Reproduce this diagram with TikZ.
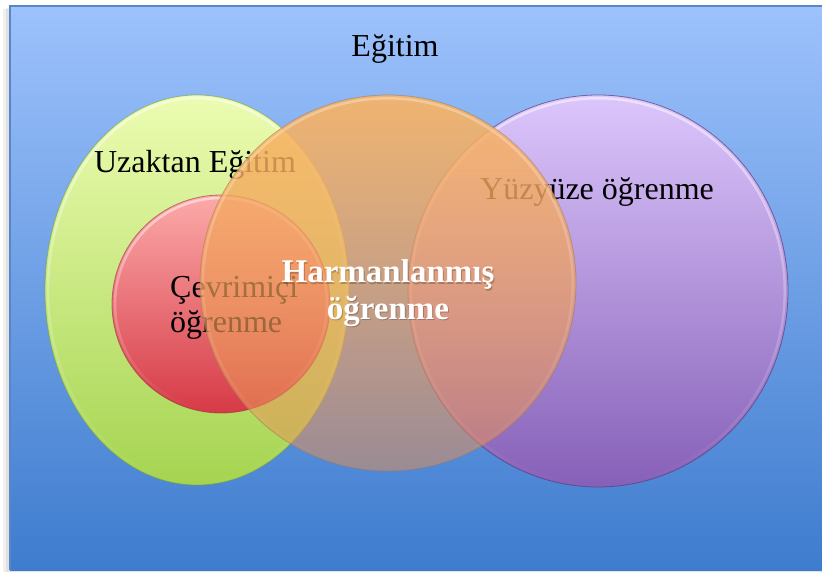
\documentclass[tikz,border=0pt]{standalone}
\usepackage{fontspec}
\setmainfont{Liberation Serif}
\usetikzlibrary{fadings}

% palette
\definecolor{bgtop}{RGB}{157,194,252}
\definecolor{bgbot}{RGB}{62,124,206}
\definecolor{bgedge}{RGB}{88,134,200}
\definecolor{grtop}{RGB}{236,252,178}
\definecolor{grbot}{RGB}{165,212,80}
\definecolor{gredge}{RGB}{120,160,60}
\definecolor{rdtop}{RGB}{252,170,170}
\definecolor{rdbot}{RGB}{214,58,70}
\definecolor{rdedge}{RGB}{150,50,60}
\definecolor{pptop}{RGB}{220,198,252}
\definecolor{ppbot}{RGB}{134,96,184}
\definecolor{ppedge}{RGB}{90,60,120}
\definecolor{ortop}{RGB}{250,180,98}
\definecolor{orbot}{RGB}{230,142,84}
\definecolor{oredge}{RGB}{160,120,80}

% the blended circle is denser at the top than at the bottom
\tikzfading[name=orfade, top color=transparent!10, bottom color=transparent!50]

\tikzset{
  lbl/.style={font=\fontsize{32}{38}\selectfont, inner sep=0pt, text=black},
  hlbl/.style={font=\fontsize{33}{38}\selectfont\bfseries, inner sep=0pt},
  rim/.style={draw=white, line width=2.5pt, draw opacity=0.5, path fading=south},
}

\begin{document}
\begin{tikzpicture}[x=1pt,y=-1pt]
\useasboundingbox (0,0) rectangle (822,572);
\fill[white] (0,0) rectangle (822,572);

% panel shadow and panel
\fill[black, opacity=0.06] (3,9) rectangle (822,573);
\fill[black, opacity=0.06] (6,8) rectangle (822,572);
\shade[top color=bgtop, bottom color=bgbot] (10,6) rectangle (824,570);
\draw[bgedge, line width=1.2pt] (10,570) -- (10,6) -- (824,6);

% Uzaktan Egitim
\shade[top color=grtop, bottom color=grbot] (197,290) ellipse [x radius=152pt, y radius=195pt];
\draw[gredge, line width=0.8pt, draw opacity=0.6] (197,290) ellipse [x radius=152pt, y radius=195pt];
\path[rim] (197,290) ellipse [x radius=149pt, y radius=192pt];
\node[lbl, anchor=base] (uzaktan) at (195,173) {Uzaktan Eğitim};

% Cevrimici ogrenme
\shade[top color=rdtop, bottom color=rdbot] (221,304) circle [radius=109pt];
\draw[rdedge, line width=0.8pt, draw opacity=0.6] (221,304) circle [radius=109pt];
\path[rim] (221,304) circle [radius=106pt];
\node[lbl, anchor=base west] (cev1) at (170,297) {Çevrimiçi};
\node[lbl, anchor=base west] (cev2) at (170,332) {öğrenme};

% Yuzyuze ogrenme
\shade[top color=pptop, bottom color=ppbot] (598,291) ellipse [x radius=190pt, y radius=196pt];
\draw[ppedge, line width=0.8pt, draw opacity=0.7] (598,291) ellipse [x radius=190pt, y radius=196pt];
\path[rim] (598,291) ellipse [x radius=187pt, y radius=193pt];
\node[lbl, anchor=base west] (yuz) at (480,200) {Yüzyüze öğrenme};

% Harmanlanmis ogrenme (translucent)
\shade[top color=ortop, bottom color=orbot, path fading=orfade] (388,283) circle [radius=188pt];
\draw[oredge, line width=0.8pt, draw opacity=0.5] (388,283) circle [radius=188pt];
\path[rim, draw opacity=0.3] (388,283) circle [radius=185pt];
\node[hlbl, text=black, opacity=0.22, anchor=base] (harm1s) at (389,284) {Harmanlanmış};
\node[hlbl, text=black, opacity=0.22, anchor=base] (harm2s) at (389,320) {öğrenme};
\node[hlbl, text=white, anchor=base] (harm1) at (388,283) {Harmanlanmış};
\node[hlbl, text=white, anchor=base] (harm2) at (388,319) {öğrenme};

% title
\node[lbl, anchor=base] (egitim) at (395,57) {Eğitim};
\end{tikzpicture}
\end{document}
